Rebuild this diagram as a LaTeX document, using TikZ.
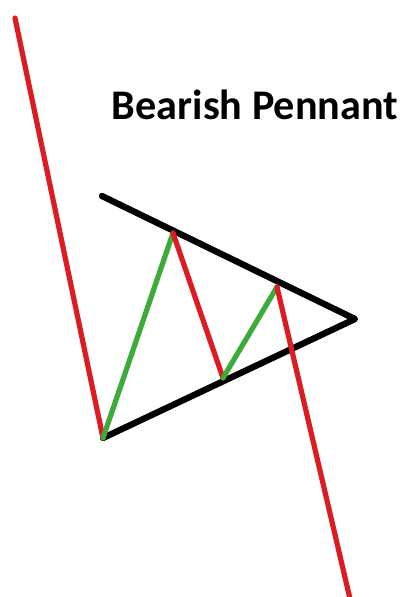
\documentclass[tikz,border=0pt]{standalone}
\usepackage{fontspec}
\setmainfont{Carlito}
\usepackage{xcolor}
\definecolor{bearred}{RGB}{220,28,34}
\definecolor{bullgreen}{RGB}{62,170,58}
\usepackage{tikz}
\newlength\legwidth
\setlength\legwidth{3.7pt}
\tikzset{
  downleg/.style={draw=bearred, line width=\legwidth, line cap=round},
  upleg/.style={draw=bullgreen, line width=\legwidth, line cap=round},
  trendline/.style={draw=black, line width=4.5pt, line cap=round, line join=round},
  titletext/.style={font=\fontsize{30}{35}\selectfont\bfseries, anchor=base,
    inner sep=0pt},
}
\begin{document}
\begin{tikzpicture}[x=0.025cm, y=-0.025cm]
\useasboundingbox (0,0) rectangle (404,597);
% turning points of the price path
\coordinate (pole)   at (15,18);
\coordinate (low1)   at (103,438);
\coordinate (high1)  at (173,233);
\coordinate (low2)   at (223,378);
\coordinate (high2)  at (277,287);
\coordinate (exit)   at (351,603);
% pennant borders
\coordinate (upstart) at (102,196);
\coordinate (apex)    at (355,319);
\draw[trendline] (upstart) -- (apex) -- (low1);
% price legs
\draw[downleg] (pole) -- (low1);
\draw[upleg] (low1) -- (high1);
\draw[downleg] (high1) -- (low2);
\draw[upleg] (low2) -- (high2);
\draw[downleg] (high2) -- (exit);
% title
\node[titletext] (title) at (255,120) {Bearish Pennant};
\end{tikzpicture}
\end{document}
